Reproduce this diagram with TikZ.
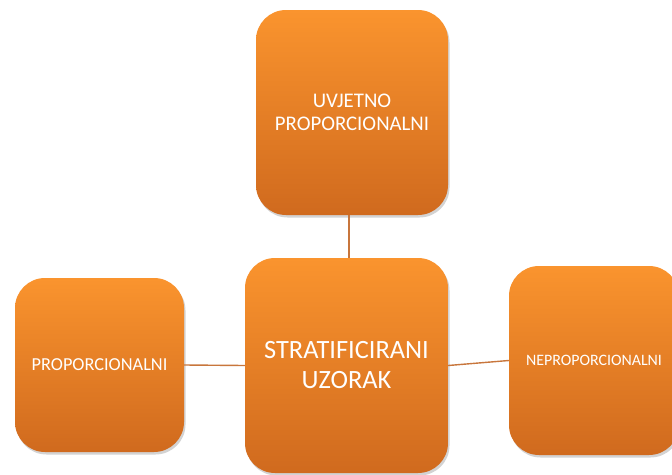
\documentclass[tikz,border=0pt]{standalone}
\usepackage{fontspec}
\setmainfont{Carlito}
\usetikzlibrary{shadows}
\definecolor{otop}{RGB}{250,148,46}
\definecolor{obot}{RGB}{208,106,30}
\definecolor{conn}{RGB}{200,118,60}
\tikzset{
  obox/.style={rounded corners=30pt, top color=otop, bottom color=obot, draw=none,
    text=white, align=center, inner sep=0pt,
    drop shadow={opacity=0.35, shadow xshift=1.5pt, shadow yshift=-2.5pt}},
  link/.style={draw=conn, line width=1.4pt}
}
\begin{document}
\begin{tikzpicture}[x=1pt,y=-1pt]
\useasboundingbox (0,0) rectangle (672,474);
\clip (0,0) rectangle (672,474);
\node[obox, minimum width=192pt, minimum height=205pt,
  font=\fontsize{20.8}{23.5}\selectfont] (top) at (352,112.5) {UVJETNO\\PROPORCIONALNI};
\node[obox, minimum width=203pt, minimum height=215pt,
  font=\fontsize{26.4}{30}\selectfont] (ctr) at (346.5,365.5) {STRATIFICIRANI\\UZORAK};
\node[obox, minimum width=169pt, minimum height=174pt,
  font=\fontsize{18.3}{21}\selectfont] (left) at (99.5,365) {PROPORCIONALNI};
\node[obox, minimum width=170pt, minimum height=189pt,
  font=\fontsize{15.9}{19}\selectfont] (right) at (594,360.5) {NEPROPORCIONALNI};
\draw[link] ([xshift=-3pt]top.south) -- ([xshift=2.5pt]ctr.north);
\draw[link] (left.east) -- (ctr.west);
\draw[link] (ctr.east) -- (right.west);
\end{tikzpicture}
\end{document}
